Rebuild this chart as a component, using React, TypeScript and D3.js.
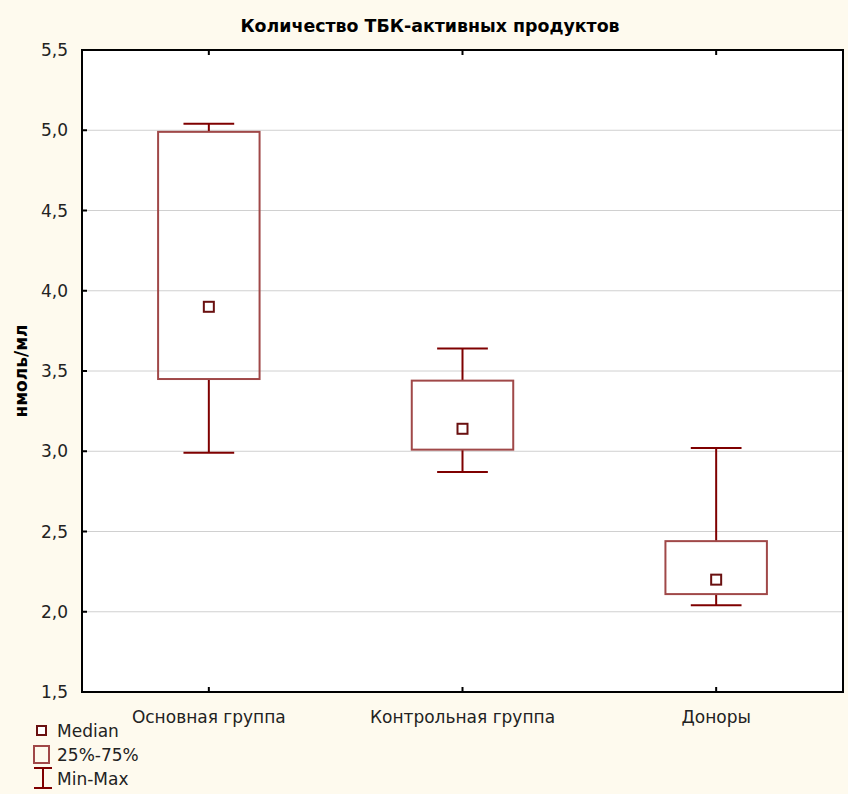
import React from "react";
import * as d3 from "d3";

const categories = ["Основная группа", "Контрольная группа", "Доноры"];
const minValues = [2.99, 2.87, 2.04];
const q1Values = [3.45, 3.01, 2.11];
const medianValues = [3.9, 3.14, 2.2];
const q3Values = [4.99, 3.44, 2.44];
const maxValues = [5.04, 3.64, 3.02];
const yTicks = [1.5, 2.0, 2.5, 3.0, 3.5, 4.0, 4.5, 5.0, 5.5];
const legendItems = ["Median", "25%-75%", "Min-Max"];

const W = 848;
const H = 794;
const left = 82;
const right = 843;
const top = 50;
const bottom = 692;
const FONT = "'DejaVu Sans', sans-serif";
const WHISK = "#7f0000";
const BOX = "#a04848";
const BG = "#fefaee";

export default function App() {
  const x = d3.scaleBand<string>().domain(categories).range([left, right]).padding(0);
  const y = d3.scaleLinear().domain([1.5, 5.5]).range([bottom, top]);
  const fmt = (v: number) => v.toFixed(1).replace(".", ",");
  const boxW = x.bandwidth() * 0.4;
  const capW = boxW * 0.5;

  return (
    <div style={{ position: "absolute", left: 0, top: 0 }}>
      <svg width={W} height={H} style={{ display: "block" }}>
        <rect x={0} y={0} width={W} height={H} fill={BG} />
        <text x={430} y={32} textAnchor="middle" fontFamily={FONT} fontWeight="bold" fontSize={17.4} fill="#000">
          Количество ТБК-активных продуктов
        </text>
        <rect x={left} y={top} width={right - left} height={bottom - top} fill="#fff" />
        {yTicks.map((t) => (
          <g key={t}>
            {t > 1.5 && t < 5.5 && (
              <line x1={left} x2={right} y1={y(t)} y2={y(t)} stroke="#d0d0d0" strokeWidth={1} />
            )}
            <line x1={left} x2={left + 5} y1={y(t)} y2={y(t)} stroke="#000" strokeWidth={2} />
            <text x={68} y={y(t) + 6} textAnchor="end" fontFamily={FONT} fontSize={17} fill="#222">
              {fmt(t)}
            </text>
          </g>
        ))}
        {categories.map((c, i) => {
          const cx = x(c)! + x.bandwidth() / 2;
          return (
            <g key={c}>
              <line x1={cx} x2={cx} y1={top} y2={top + 5} stroke="#000" strokeWidth={2} />
              <line x1={cx} x2={cx} y1={bottom} y2={bottom - 5} stroke="#000" strokeWidth={2} />
              <text x={cx} y={723} textAnchor="middle" fontFamily={FONT} fontSize={17} fill="#222">
                {c}
              </text>
              <line x1={cx} x2={cx} y1={y(maxValues[i])} y2={y(q3Values[i])} stroke={WHISK} strokeWidth={2} />
              <line x1={cx} x2={cx} y1={y(q1Values[i])} y2={y(minValues[i])} stroke={WHISK} strokeWidth={2} />
              <line x1={cx - capW / 2} x2={cx + capW / 2} y1={y(maxValues[i])} y2={y(maxValues[i])} stroke={WHISK} strokeWidth={2} />
              <line x1={cx - capW / 2} x2={cx + capW / 2} y1={y(minValues[i])} y2={y(minValues[i])} stroke={WHISK} strokeWidth={2} />
              <rect
                x={cx - boxW / 2}
                y={y(q3Values[i])}
                width={boxW}
                height={y(q1Values[i]) - y(q3Values[i])}
                fill="none"
                stroke={BOX}
                strokeWidth={2}
              />
              <rect x={cx - 5} y={y(medianValues[i]) - 5} width={10} height={10} fill="#fff" stroke="#6a1010" strokeWidth={2} />
            </g>
          );
        })}
        <rect x={left} y={top} width={right - left} height={bottom - top} fill="none" stroke="#000" strokeWidth={2} />
        <text
          transform={`translate(27,${(top + bottom) / 2}) rotate(-90)`}
          textAnchor="middle"
          fontFamily={FONT}
          fontWeight="bold"
          fontSize={17}
          fill="#000"
        >
          нмоль/мл
        </text>
        <rect x={37} y={726} width={9} height={9} fill="#fff" stroke="#6a1010" strokeWidth={2} />
        <text x={57} y={737} fontFamily={FONT} fontSize={17} fill="#222">{legendItems[0]}</text>
        <rect x={34} y={746} width={15} height={17} fill="none" stroke={BOX} strokeWidth={2} />
        <text x={57} y={761} fontFamily={FONT} fontSize={17} fill="#222">{legendItems[1]}</text>
        <line x1={34} x2={52} y1={768} y2={768} stroke={WHISK} strokeWidth={2} />
        <line x1={43} x2={43} y1={768} y2={788} stroke={WHISK} strokeWidth={2} />
        <line x1={34} x2={52} y1={788} y2={788} stroke={WHISK} strokeWidth={2} />
        <text x={57} y={785} fontFamily={FONT} fontSize={17} fill="#222">{legendItems[2]}</text>
      </svg>
    </div>
  );
}
